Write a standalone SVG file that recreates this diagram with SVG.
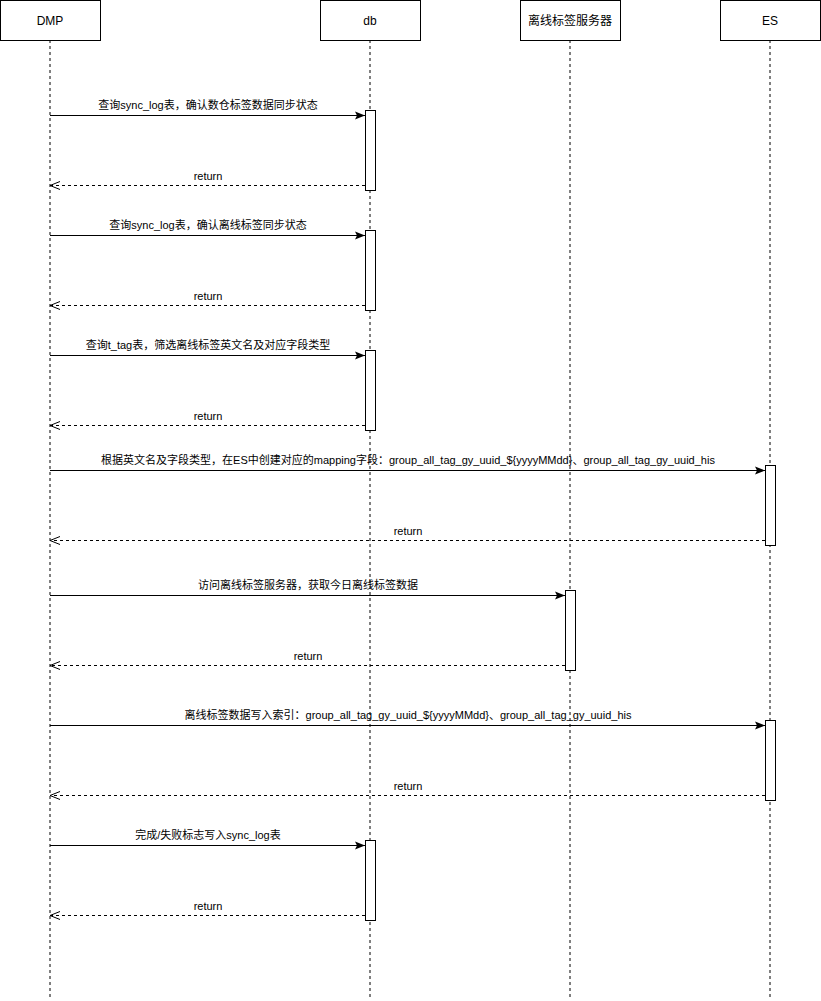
<svg xmlns="http://www.w3.org/2000/svg" width="821" height="1001" viewBox="0 0 821 1001">
<defs>
<marker id="fill" viewBox="0 0 10 10" refX="10" refY="5" markerWidth="10" markerHeight="10" markerUnits="userSpaceOnUse" orient="auto"><path d="M0,1 L10,5 L0,9 L2,5 Z" fill="#000"/></marker>
<marker id="open" viewBox="0 0 10 10" refX="10" refY="5" markerWidth="10" markerHeight="10" markerUnits="userSpaceOnUse" orient="auto"><path d="M0,1 L10,5 L0,9" fill="none" stroke="#000" stroke-width="1"/></marker>
</defs>
<style>
.box{fill:#fff;stroke:#000;stroke-width:1}
.life{stroke:#000;stroke-dasharray:3 3;fill:none}
.t{font-family:"Liberation Sans","Noto Sans CJK SC",sans-serif;font-size:12px;text-anchor:middle;fill:#000}
.l{font-family:"Liberation Sans","Noto Sans CJK SC",sans-serif;font-size:11px;text-anchor:middle;fill:#000}
.msg{stroke:#000;fill:none;marker-end:url(#fill)}
.ret{stroke:#000;fill:none;stroke-dasharray:3 3;marker-end:url(#open)}
.act{fill:#fff;stroke:#000}
</style>
<g id="lifelines">
<line class="life" x1="50" y1="40" x2="50" y2="1000"/>
<line class="life" x1="370" y1="40" x2="370" y2="1000"/>
<line class="life" x1="570" y1="40" x2="570" y2="1000"/>
<line class="life" x1="770" y1="40" x2="770" y2="1000"/>
</g>
<g id="node-dmp"><rect class="box" x="0.5" y="0.5" width="100" height="40"/><text class="t" x="50" y="25">DMP</text></g>
<g id="node-db"><rect class="box" x="320.5" y="0.5" width="100" height="40"/><text class="t" x="370" y="25">db</text></g>
<g id="node-offline"><rect class="box" x="520.5" y="0.5" width="100" height="40"/><text class="t" x="570" y="25">离线标签服务器</text></g>
<g id="node-es"><rect class="box" x="720.5" y="0.5" width="100" height="40"/><text class="t" x="770" y="25">ES</text></g>
<g id="activations">
<rect class="act" x="365.5" y="110.5" width="10" height="80"/>
<rect class="act" x="365.5" y="230.5" width="10" height="80"/>
<rect class="act" x="365.5" y="350.5" width="10" height="80"/>
<rect class="act" x="765.5" y="465.5" width="10" height="80"/>
<rect class="act" x="565.5" y="590.5" width="10" height="80"/>
<rect class="act" x="765.5" y="720.5" width="10" height="80"/>
<rect class="act" x="365.5" y="840.5" width="10" height="80"/>
</g>
<g id="connectors">
<line class="msg" x1="50" y1="115.5" x2="365" y2="115.5"/>
<text class="l" x="208" y="109">查询sync_log表，确认数仓标签数据同步状态</text>
<line class="ret" x1="365" y1="185.5" x2="50" y2="185.5"/>
<text class="l" x="208" y="180">return</text>

<line class="msg" x1="50" y1="235.5" x2="365" y2="235.5"/>
<text class="l" x="208" y="229">查询sync_log表，确认离线标签同步状态</text>
<line class="ret" x1="365" y1="305.5" x2="50" y2="305.5"/>
<text class="l" x="208" y="300">return</text>

<line class="msg" x1="50" y1="355.5" x2="365" y2="355.5"/>
<text class="l" x="208" y="349">查询t_tag表，筛选离线标签英文名及对应字段类型</text>
<line class="ret" x1="365" y1="425.5" x2="50" y2="425.5"/>
<text class="l" x="208" y="420">return</text>

<line class="msg" x1="50" y1="470.5" x2="765" y2="470.5"/>
<text class="l" x="408" y="464">根据英文名及字段类型，在ES中创建对应的mapping字段：group_all_tag_gy_uuid_${yyyyMMdd}、group_all_tag_gy_uuid_his</text>
<line class="ret" x1="765" y1="540.5" x2="50" y2="540.5"/>
<text class="l" x="408" y="535">return</text>

<line class="msg" x1="50" y1="595.5" x2="565" y2="595.5"/>
<text class="l" x="308" y="589">访问离线标签服务器，获取今日离线标签数据</text>
<line class="ret" x1="565" y1="665.5" x2="50" y2="665.5"/>
<text class="l" x="308" y="660">return</text>

<line class="msg" x1="50" y1="725.5" x2="765" y2="725.5"/>
<text class="l" x="408" y="719">离线标签数据写入索引：group_all_tag_gy_uuid_${yyyyMMdd}、group_all_tag_gy_uuid_his</text>
<line class="ret" x1="765" y1="795.5" x2="50" y2="795.5"/>
<text class="l" x="408" y="790">return</text>

<line class="msg" x1="50" y1="845.5" x2="365" y2="845.5"/>
<text class="l" x="208" y="839">完成/失败标志写入sync_log表</text>
<line class="ret" x1="365" y1="915.5" x2="50" y2="915.5"/>
<text class="l" x="208" y="910">return</text>
</g>
</svg>
